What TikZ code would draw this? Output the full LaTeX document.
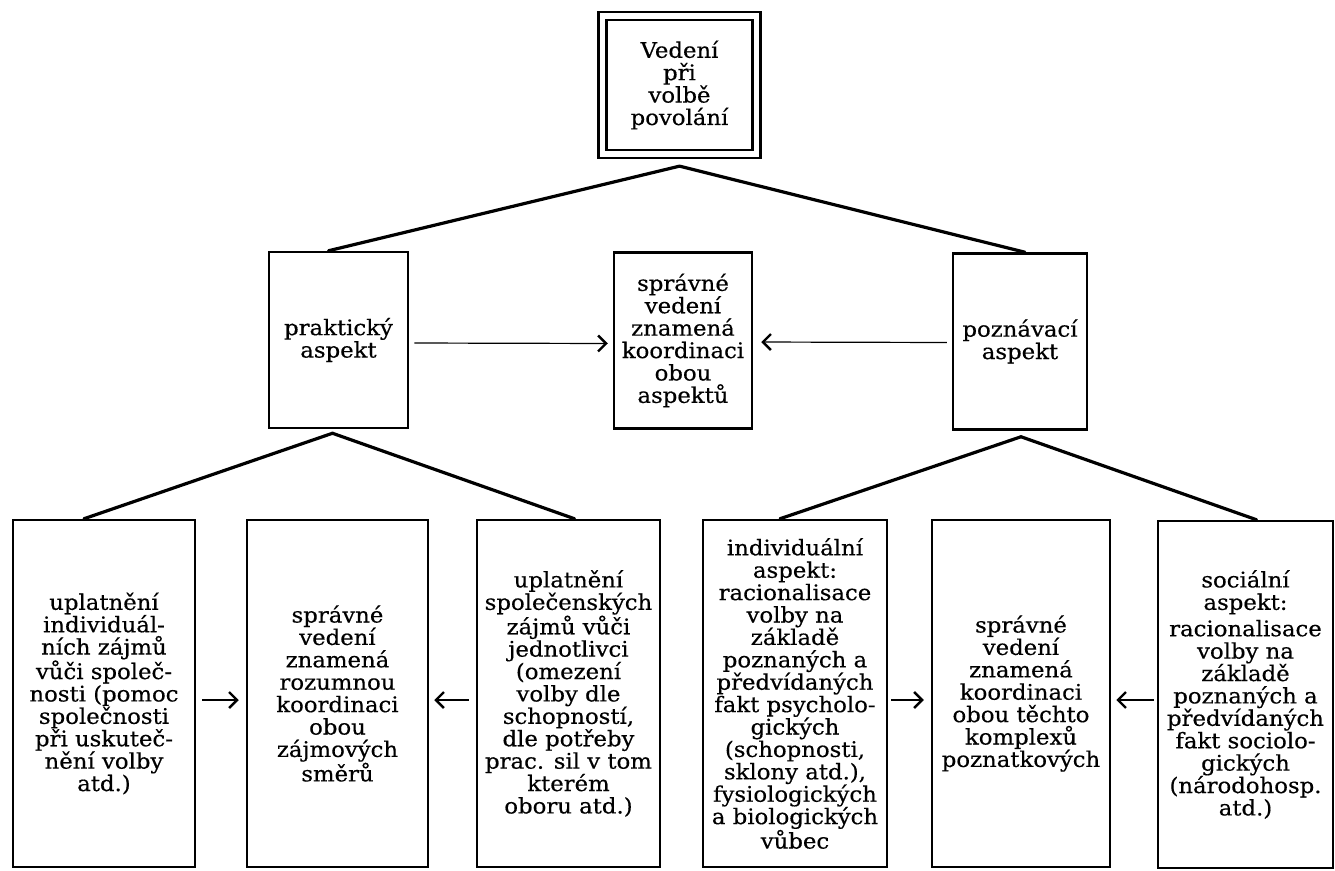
\documentclass[tikz,border=0pt]{standalone}
\usepackage{fontspec}
\setmainfont{DejaVu Serif}[FakeStretch=1.06,FakeBold=0.4]
\usetikzlibrary{arrows.meta}
\begin{document}
\begin{tikzpicture}[x=1pt,y=-1pt,
  box/.style={draw, line width=2.5pt, inner sep=0pt, align=center,
    font=\fontsize{21.5}{22.4}\selectfont},
  mbox/.style={box, minimum height=176pt},
  bbox/.style={box, minimum height=347pt},
  link/.style={line width=3.2pt, line cap=round},
  arr/.style={line width=1.2pt, -{Straight Barb[length=8pt,width=16pt,line width=2.4pt]}}]
\fill[white] (0,0) rectangle (1335,870);
\useasboundingbox (0,0) rectangle (1335,870);

% top
\node[box, line width=2.3pt, minimum width=154pt, minimum height=138pt, double, double distance=5.5pt] (top) at (679.5,85) {Vedení\\při\\volbě\\povolání};

% middle row
\node[mbox, minimum width=139pt] (prak) at (338.5,340) {praktický\\aspekt};
\node[mbox, minimum width=138pt] (mid) at (683,340.5) {správné\\vedení\\znamená\\koordinaci\\obou\\aspektů};
\node[mbox, minimum width=134pt] (pozn) at (1020,341.5) {poznávací\\aspekt};

% bottom row
\node[bbox, minimum width=182pt] (b1) at (104,693.5) {uplatnění\\individuál-\\ních zájmů\\vůči společ-\\nosti (pomoc\\společnosti\\při uskuteč-\\nění volby\\atd.)};
\node[bbox, minimum width=181pt] (b2) at (337.5,693.5) {správné\\vedení\\znamená\\rozumnou\\koordinaci\\obou\\zájmových\\směrů};
\node[bbox, minimum width=183pt] (b3) at (568.5,693.5) {uplatnění\\společenských\\zájmů vůči\\jednotlivci\\(omezení\\volby dle\\schopností,\\dle potřeby\\prac. sil v tom\\kterém\\oboru atd.)};
\node[bbox, minimum width=184pt] (b4) at (795,693.5) {individuální\\aspekt:\\racionalisace\\volby na\\základě\\poznaných a\\předvídaných\\fakt psycholo-\\gických\\(schopnosti,\\sklony atd.),\\fysiologických\\a biologických\\vůbec};
\node[bbox, minimum width=178pt] (b5) at (1021,693.5) {správné\\vedení\\znamená\\koordinaci\\obou těchto\\komplexů\\poznatkových};
\node[bbox, minimum width=175pt] (b6) at (1245.5,694.5) {sociální\\aspekt:\\[4pt]racionalisace\\volby na\\základě\\poznaných a\\předvídaných\\fakt sociolo-\\gických\\(národohosp.\\atd.)};

% apex points
\coordinate (a0) at ([yshift=-11pt]top.south);
\coordinate (a1) at ([xshift=-6pt,yshift=-4pt]prak.south);
\coordinate (a2) at ([xshift=1pt,yshift=-6pt]pozn.south);

% tree links
\draw[link] ([xshift=-10pt]prak.north) -- (a0) -- ([xshift=5pt]pozn.north);
\draw[link] ([xshift=-20pt]b1.north) -- (a1) -- ([xshift=6pt]b3.north);
\draw[link] ([xshift=-15pt]b4.north) -- (a2) -- ([xshift=11pt]b6.north);

% arrows
\draw[arr, shorten <=5pt, shorten >=5pt] ([yshift=-3pt]prak.east) -- ([yshift=-3pt]mid.west);
\draw[arr, shorten <=5pt, shorten >=8pt] ([yshift=-1pt]pozn.west) -- ([yshift=-1.5pt]mid.east);
\draw[arr, shorten <=6pt, shorten >=7pt] ([yshift=-6.5pt]b1.east) -- ([yshift=-6.5pt]b2.west);
\draw[arr, shorten <=7pt, shorten >=5pt] ([yshift=-6.5pt]b3.west) -- ([yshift=-6.5pt]b2.east);
\draw[arr, shorten <=3pt, shorten >=7pt] ([yshift=-6.5pt]b4.east) -- ([yshift=-6.5pt]b5.west);
\draw[arr, shorten <=3pt, shorten >=5pt] ([yshift=-5.5pt]b6.west) -- ([yshift=-6.5pt]b5.east);
\end{tikzpicture}
\end{document}
